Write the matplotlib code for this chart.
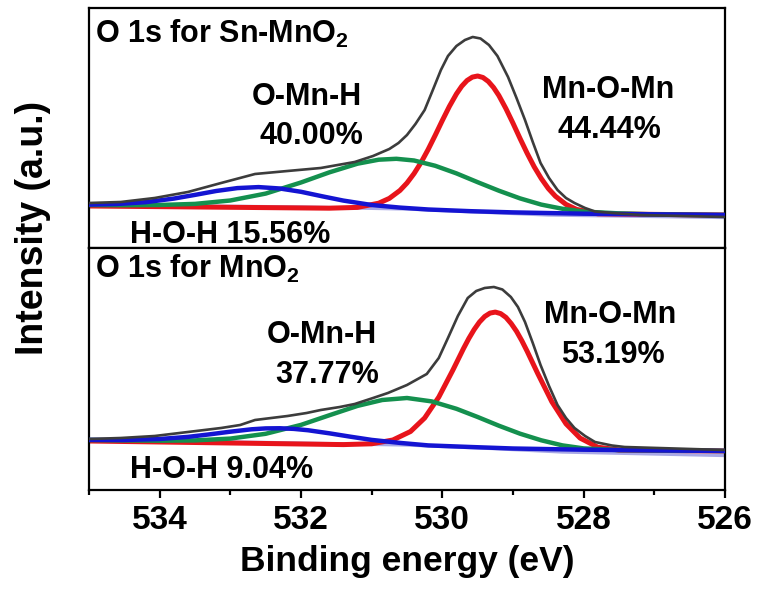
import matplotlib
matplotlib.use("Agg")
import matplotlib.pyplot as plt
from matplotlib.ticker import MultipleLocator

plt.rcParams["font.family"] = ["Liberation Sans", "DejaVu Sans"]
plt.rcParams["font.weight"] = "bold"
plt.rcParams["mathtext.fontset"] = "custom"
plt.rcParams["mathtext.bf"] = "Liberation Sans:bold"
plt.rcParams["mathtext.rm"] = "Liberation Sans:bold"
plt.rcParams["mathtext.default"] = "bf"

# ---- Sn-MnO2 (top panel), intensities in a.u. ----
sn_bg_e = [535.0, 532.0, 530.5, 529.5, 528.5, 526.0]
sn_bg_y = [43.0, 41.0, 39.0, 36.0, 33.0, 30.5]

sn_env_e = [535.0, 534.55, 534.07, 533.6, 533.13, 532.65, 532.19, 531.72, 531.24, 530.98,
            530.75, 530.62, 530.5, 530.38, 530.25, 530.14, 530.02, 529.92, 529.8, 529.68,
            529.57, 529.46, 529.34, 529.22, 529.07, 528.95, 528.83, 528.72, 528.61, 528.49,
            528.37, 528.25, 528.13, 527.98, 527.84, 527.5, 527.19, 526.6, 526.0]
sn_env_y = [45, 46, 50, 56, 65, 74, 77, 80, 86, 92,
            99, 105, 113, 124, 138, 157, 178, 192, 202, 208,
            211, 209.5, 203, 192, 171, 150, 128, 106, 85, 70,
            58, 50, 45, 40, 36.5, 34.5, 33, 32, 31]

sn_red_e = [535.0, 533.0, 531.6, 531.2, 530.9, 530.75, 530.6, 530.5, 530.4, 530.3, 530.2,
            530.1, 530.0, 529.9, 529.8, 529.725, 529.65, 529.575, 529.5, 529.425, 529.35,
            529.275, 529.2, 529.1, 529.0, 528.9, 528.8, 528.7, 528.6, 528.5, 528.4,
            528.25, 528.1, 527.8, 527.0, 526.0]
sn_red_y = [42.0, 40.7, 39.8, 40.6, 44.8, 49.6, 57.5, 65.0, 74.4, 85.6, 98.6,
            112.8, 127.5, 141.6, 154.1, 161.8, 167.5, 170.9, 172.0, 170.5, 166.6,
            160.5, 152.5, 139.4, 124.8, 109.5, 94.8, 81.2, 69.5, 59.5, 51.8,
            43.6, 38.6, 34.2, 33.6, 33.0]

sn_green_e = [535.0, 534.5, 534.0, 533.5, 533.0, 532.5, 532.0, 531.6, 531.2, 530.9, 530.65,
              530.4, 530.1, 529.8, 529.5, 529.2, 528.9, 528.6, 528.3, 528.0, 527.5, 527.0,
              526.5, 526.0]
sn_green_y = [43.0, 42.8, 43.0, 44.1, 47.5, 54.4, 65.5, 75.6, 84.3, 88.3, 89.2,
              87.5, 82.2, 74.6, 65.8, 57.3, 49.6, 43.4, 39.2, 36.4, 34.6, 33.6,
              33.3, 33.0]

sn_blue_e = [535.0, 534.6, 534.2, 533.8, 533.5, 533.2, 532.9, 532.6, 532.3, 532.0, 531.7,
             531.4, 531.0, 530.6, 530.2, 529.6, 529.0, 528.0, 527.0, 526.0]
sn_blue_y = [43.4, 44.0, 45.8, 49.4, 53.1, 57.0, 59.9, 60.9, 59.5, 56.2, 51.7,
             47.4, 43.0, 40.4, 38.5, 36.8, 35.6, 34.3, 33.6, 33.0]

# ---- MnO2 (bottom panel) ----
mn_bg_e = [535.0, 532.5, 530.5, 529.3, 528.3, 526.0]
mn_bg_y = [50.0, 47.5, 45.0, 41.5, 38.0, 34.5]

mn_env_e = [535.0, 534.55, 534.07, 533.6, 533.13, 532.86, 532.65, 532.19, 531.92, 531.72,
            531.45, 531.24, 530.98, 530.77, 530.5, 530.22, 530.05, 529.92, 529.78, 529.64,
            529.52, 529.4, 529.27, 529.15, 529.03, 528.93, 528.83, 528.72, 528.61, 528.49,
            528.37, 528.25, 528.13, 527.98, 527.84, 527.6, 527.42, 526.71, 526.02]
mn_env_y = [51, 52, 54, 58, 62, 65, 70, 74, 77, 80,
            83, 86, 92, 97, 105, 116, 132, 152, 174, 192,
            199, 202, 203, 200.5, 193, 183, 168, 147, 125, 104,
            85, 72, 62, 54, 48, 44.5, 43, 41.5, 40]

mn_red_e = [535.0, 533.0, 531.4, 531.0, 530.7, 530.45, 530.25, 530.05, 529.85, 529.7,
            529.625, 529.55, 529.475, 529.4, 529.325, 529.25, 529.175, 529.1, 529.025,
            528.95, 528.875, 528.8, 528.65, 528.45, 528.25, 528.05, 527.8, 527.5, 526.8,
            526.0]
mn_red_y = [49.0, 47.0, 45.4, 46.2, 50.0, 58.5, 72.0, 92.9, 120.0, 141.5,
            151.5, 160.4, 167.9, 173.5, 176.9, 177.9, 176.4, 172.6, 166.4,
            158.7, 149.3, 138.8, 116.5, 88.2, 66.2, 51.9, 42.8, 40.0, 39.5,
            39.0]

mn_green_e = [535.0, 534.5, 534.0, 533.5, 533.0, 532.5, 532.0, 531.6, 531.2, 530.85, 530.5,
              530.15, 529.8, 529.5, 529.2, 528.9, 528.6, 528.3, 528.0, 527.5, 527.0,
              526.5, 526.0]
mn_green_y = [50.0, 49.6, 49.3, 49.6, 51.4, 56.2, 65.1, 74.7, 84.1, 90.0, 92.0,
              88.6, 81.2, 73.0, 64.3, 56.3, 49.7, 44.6, 41.6, 39.9, 39.6,
              39.3, 39.0]

mn_blue_e = [535.0, 534.5, 534.0, 533.6, 533.3, 533.0, 532.7, 532.5, 532.3, 532.1, 531.9,
             531.6, 531.3, 531.0, 530.6, 530.2, 529.6, 529.0, 528.0, 527.0, 526.0]
mn_blue_y = [50.1, 50.0, 51.0, 53.1, 55.6, 58.3, 60.7, 61.6, 61.75, 61.1, 59.75,
             56.7, 53.3, 50.1, 47.1, 44.6, 43.0, 41.5, 40.3, 39.6, 39.0]

C_ENV = "#3c3c3c"
C_RED = "#e8141b"
C_GREEN = "#14904e"
C_BLUE = "#1414d2"
C_BG = "#a9a9e6"


def draw_panel(ax, bg, env, red, green, blue):
    ax.plot(*bg, color=C_BG, lw=2.4, solid_capstyle="butt", zorder=1)
    ax.plot(*red, color=C_RED, lw=3.6, zorder=2)
    ax.plot(*green, color=C_GREEN, lw=3.2, zorder=3)
    ax.plot(*blue, color=C_BLUE, lw=3.2, zorder=4)
    ax.plot(*env, color=C_ENV, lw=1.9, zorder=5)


fig = plt.figure(figsize=(7.65, 5.92), dpi=100)
ax_top = fig.add_axes([0.1163, 0.5811, 0.8314, 0.4054])
ax_bot = fig.add_axes([0.1163, 0.1723, 0.8314, 0.4088], sharex=ax_top)

draw_panel(ax_top, (sn_bg_e, sn_bg_y), (sn_env_e, sn_env_y), (sn_red_e, sn_red_y),
           (sn_green_e, sn_green_y), (sn_blue_e, sn_blue_y))
draw_panel(ax_bot, (mn_bg_e, mn_bg_y), (mn_env_e, mn_env_y), (mn_red_e, mn_red_y),
           (mn_green_e, mn_green_y), (mn_blue_e, mn_blue_y))

ax_top.set_xlim(535, 526)
ax_top.set_ylim(0, 240)
ax_bot.set_ylim(0, 242)

for ax in (ax_top, ax_bot):
    for sp in ax.spines.values():
        sp.set_linewidth(1.6)
    ax.set_yticks([])

ax_top.tick_params(axis="x", which="both", bottom=False, labelbottom=False)
ax_bot.xaxis.set_major_locator(MultipleLocator(2))
ax_bot.xaxis.set_minor_locator(MultipleLocator(1))
ax_bot.tick_params(axis="x", which="major", direction="out", length=6, width=1.6,
                   labelsize=24, pad=5)
ax_bot.tick_params(axis="x", which="minor", direction="out", length=3.5, width=1.6)
for lab in ax_bot.get_xticklabels():
    lab.set_fontweight("bold")

fs = 22
ax_top.text(534.92, 205, "O 1s for Sn-MnO$_2$", fontsize=fs, ha="left", va="baseline")
ax_top.text(531.92, 143, "O-Mn-H", fontsize=fs, ha="center", va="baseline")
ax_top.text(531.85, 104, "40.00%", fontsize=fs, ha="center", va="baseline")
ax_top.text(527.66, 150, "Mn-O-Mn", fontsize=fs, ha="center", va="baseline")
ax_top.text(527.63, 110, "44.44%", fontsize=fs, ha="center", va="baseline")
ax_top.text(533.0, 5, "H-O-H 15.56%", fontsize=fs, ha="center", va="baseline")

ax_bot.text(534.92, 212, "O 1s for MnO$_2$", fontsize=fs, ha="left", va="baseline")
ax_bot.text(531.7, 147, "O-Mn-H", fontsize=fs, ha="center", va="baseline")
ax_bot.text(531.63, 107, "37.77%", fontsize=fs, ha="center", va="baseline")
ax_bot.text(527.62, 167, "Mn-O-Mn", fontsize=fs, ha="center", va="baseline")
ax_bot.text(527.59, 127, "53.19%", fontsize=fs, ha="center", va="baseline")
ax_bot.text(533.12, 12, "H-O-H 9.04%", fontsize=fs, ha="center", va="baseline")

ax_bot.set_xlabel("Binding energy (eV)", fontsize=25.5, fontweight="bold", labelpad=6)
fig.text(0.043, 0.615, "Intensity (a.u.)", rotation=90, fontsize=27, fontweight="bold",
         ha="center", va="center")

fig.savefig("out.png", dpi=100)
